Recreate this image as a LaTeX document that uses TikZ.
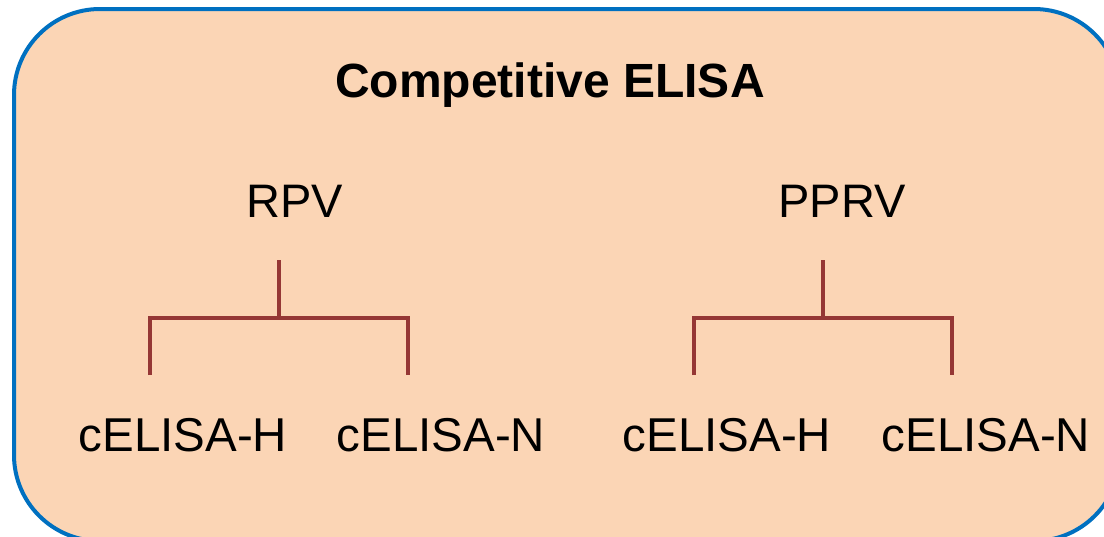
\documentclass[tikz,border=0pt]{standalone}
\usepackage{fontspec}
\setmainfont{Liberation Sans}
\usepackage{tikz}
\usetikzlibrary{positioning}

\definecolor{panelfill}{HTML}{FBD5B5}
\definecolor{panelblue}{HTML}{0070C0}
\definecolor{branchred}{HTML}{953735}

\begin{document}
\begin{tikzpicture}[
x=1pt, y=-1pt,
titlenode/.style={inner sep=0pt, anchor=base, font=\fontsize{48}{52}\selectfont\bfseries},
virusnode/.style={inner sep=0pt, anchor=base, font=\fontsize{47}{51}\selectfont},
testnode/.style={inner sep=0pt, anchor=base, font=\fontsize{47.5}{51}\selectfont},
branch/.style={draw=branchred, line width=3.2pt}
]
    \useasboundingbox (0,0) rectangle (1104,536);
    \clip (0,0) rectangle (1104,536);

    %Panel
    \draw[panelblue, fill=panelfill, line width=4pt, rounded corners=86pt]
        (14,9) rectangle (1120,541);

    %Nodes
    \node[titlenode]    (title)     at (550,97)     {Competitive ELISA};
    \node[virusnode]    (rpv)       at (295,217)    {RPV};
    \node[virusnode]    (pprv)      at (842,217)    {PPRV};
    \node[testnode]     (rpvH)      at (183,451)    {cELISA-H};
    \node[testnode]     (rpvN)      at (441,451)    {cELISA-N};
    \node[testnode]     (pprvH)     at (727,451)    {cELISA-H};
    \node[testnode]     (pprvN)     at (986,451)    {cELISA-N};

    %Bracket ends
    \coordinate (rpvstem)   at (279,260);
    \coordinate (rpvL)      at (150,375);
    \coordinate (rpvR)      at (408,375);
    \coordinate (pprvstem)  at (823,260);
    \coordinate (pprvL)     at (694,375);
    \coordinate (pprvR)     at (952,375);

    %Lines
    \draw[branch] (rpvstem) -- ++(0,58);
    \draw[branch, line join=miter] (rpvL) -- ++(0,-57) -| (rpvR);
    \draw[branch] (pprvstem) -- ++(0,58);
    \draw[branch, line join=miter] (pprvL) -- ++(0,-57) -| (pprvR);
\end{tikzpicture}
\end{document}
